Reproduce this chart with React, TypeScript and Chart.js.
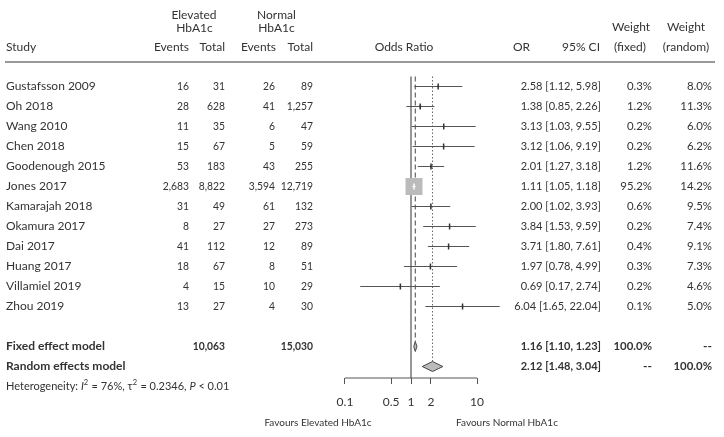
import React, { useEffect, useRef } from 'react';
import { Chart, registerables } from 'chart.js';

Chart.register(...registerables);

// ---------------- data ----------------
const studies = [
  'Gustafsson 2009', 'Oh 2018', 'Wang 2010', 'Chen 2018', 'Goodenough 2015', 'Jones 2017',
  'Kamarajah 2018', 'Okamura 2017', 'Dai 2017', 'Huang 2017', 'Villamiel 2019', 'Zhou 2019',
];
const eventsElevated = [16, 28, 11, 15, 53, 2683, 31, 8, 41, 18, 4, 13];
const totalElevated = [31, 628, 35, 67, 183, 8822, 49, 27, 112, 67, 15, 27];
const eventsNormal = [26, 41, 6, 5, 43, 3594, 61, 27, 12, 8, 10, 4];
const totalNormal = [89, 1257, 47, 59, 255, 12719, 132, 273, 89, 51, 29, 30];
const oddsRatio = [2.58, 1.38, 3.13, 3.12, 2.01, 1.11, 2.0, 3.84, 3.71, 1.97, 0.69, 6.04];
const ciLower = [1.12, 0.85, 1.03, 1.06, 1.27, 1.05, 1.02, 1.53, 1.8, 0.78, 0.17, 1.65];
const ciUpper = [5.98, 2.26, 9.55, 9.19, 3.18, 1.18, 3.93, 9.59, 7.61, 4.99, 2.74, 22.04];
const weightFixed = [0.3, 1.2, 0.2, 0.2, 1.2, 95.2, 0.6, 0.2, 0.4, 0.3, 0.2, 0.1];
const weightRandom = [8.0, 11.3, 6.0, 6.2, 11.6, 14.2, 9.5, 7.4, 9.1, 7.3, 4.6, 5.0];

const fixedModel = [1.16, 1.1, 1.23]; // OR, lower, upper
const randomModel = [2.12, 1.48, 3.04];
const fixedTotals = [10063, 15030];
const tickValues = [0.1, 0.5, 1, 2, 10];
const heterogeneity = ['76%', '0.2346', '0.01']; // I², tau², p

// row positions (in row units)
const FIXED_ROW = 13;
const RANDOM_ROW = 14;
const HET_ROW = 15;
const Y_MIN = -1.025;
const Y_MAX = 14.575;

const FONT = 'Lato, "DejaVu Sans", sans-serif';
const TEXT = '#333';

const fmtN = (n: number) => n.toLocaleString('en-US');
const fmtCI = (o: number, l: number, h: number) => `${o.toFixed(2)} [${l.toFixed(2)}, ${h.toFixed(2)}]`;

const textPlugin = {
  id: 'forestText',
  afterDraw(chart: any) {
    const ctx: CanvasRenderingContext2D = chart.ctx;
    const ys = chart.scales.y;
    ctx.save();
    ctx.fillStyle = TEXT;
    ctx.textBaseline = 'middle';
    const txt = (
      s: string, px: number, py: number, align: CanvasTextAlign = 'left',
      bold = false, size = 12, squeeze = 1,
    ) => {
      ctx.font = `${bold ? 'bold ' : ''}${size}px ${FONT}`;
      ctx.textAlign = align;
      if (squeeze < 1) ctx.fillText(s, px, py, ctx.measureText(s).width * squeeze);
      else ctx.fillText(s, px, py);
    };
    const NUM = 0.86;
    const CI = 0.92;
    // header
    txt('Elevated', 194, 15.5, 'center');
    txt('HbA1c', 194.5, 28.5, 'center');
    txt('Normal', 276.5, 15.5, 'center');
    txt('HbA1c', 276.5, 28.5, 'center');
    txt('Study', 6, 47.5);
    txt('Events', 189, 47.5, 'right');
    txt('Total', 225, 47.5, 'right');
    txt('Events', 276, 47.5, 'right');
    txt('Total', 313, 47.5, 'right');
    txt('Odds Ratio', 404, 47.5, 'center');
    txt('OR', 513, 47.5);
    txt('95% CI', 600, 47.5, 'right');
    txt('Weight', 631, 27.5, 'center');
    txt('(fixed)', 630, 47.5, 'center');
    txt('Weight', 686, 27.5, 'center');
    txt('(random)', 686, 47.5, 'center');

    ctx.strokeStyle = '#777';
    ctx.lineWidth = 1.5;
    ctx.beginPath();
    ctx.moveTo(5, 62);
    ctx.lineTo(715, 62);
    ctx.stroke();

    // study rows
    studies.forEach((s, i) => {
      const py = ys.getPixelForValue(i);
      txt(s, 6, py);
      txt(fmtN(eventsElevated[i]), 189, py, 'right', false, 12, NUM);
      txt(fmtN(totalElevated[i]), 225, py, 'right', false, 12, NUM);
      txt(fmtN(eventsNormal[i]), 275, py, 'right', false, 12, NUM);
      txt(fmtN(totalNormal[i]), 313, py, 'right', false, 12, NUM);
      txt(fmtCI(oddsRatio[i], ciLower[i], ciUpper[i]), 601, py, 'right', false, 12, CI);
      txt(weightFixed[i].toFixed(1) + '%', 652, py, 'right', false, 12, 0.95);
      txt(weightRandom[i].toFixed(1) + '%', 712, py, 'right', false, 12, 0.95);
    });

    // fixed
    let py = ys.getPixelForValue(FIXED_ROW);
    txt('Fixed effect model', 6, py, 'left', true);
    txt(fmtN(fixedTotals[0]), 225, py, 'right', true, 12, NUM);
    txt(fmtN(fixedTotals[1]), 313, py, 'right', true, 12, NUM);
    txt(fmtCI(fixedModel[0], fixedModel[1], fixedModel[2]), 601, py, 'right', true, 12, CI);
    txt('100.0%', 652, py, 'right', true, 12, 0.95);
    txt('--', 712, py, 'right', true);
    // random
    py = ys.getPixelForValue(RANDOM_ROW);
    txt('Random effects model', 6, py, 'left', true);
    txt(fmtCI(randomModel[0], randomModel[1], randomModel[2]), 601, py, 'right', true, 12, CI);
    txt('--', 652, py, 'right', true);
    txt('100.0%', 712, py, 'right', true, 12, 0.95);

    // heterogeneity with runs
    py = ys.getPixelForValue(HET_ROW);
    const runs: [string, boolean, boolean][] = [
      ['Heterogeneity: ', false, false],
      ['I', true, false],
      ['2', false, true],
      [` = ${heterogeneity[0]}, \u03c4`, false, false],
      ['2', false, true],
      [` = ${heterogeneity[1]}, `, false, false],
      ['P', true, false],
      [` < ${heterogeneity[2]}`, false, false],
    ];
    let cx = 6;
    ctx.textAlign = 'left';
    runs.forEach(([s, it, sup]) => {
      const size = sup ? 7.5 : 11;
      ctx.font = `${it ? 'italic ' : ''}${size}px ${FONT}`;
      ctx.fillText(s, cx, sup ? py - 4 : py);
      cx += ctx.measureText(s).width + (sup ? 0.5 : 0);
    });

    // favours labels
    const axisY = ys.getPixelForValue(Y_MAX);
    txt('Favours Elevated HbA1c', 318, axisY + 45, 'center', false, 10);
    txt('Favours Normal HbA1c', 507, axisY + 45, 'center', false, 10);
    ctx.restore();
  },
};

function buildDatasets() {
  const ds: any[] = [];
  // reference solid line at 1
  ds.push({
    type: 'line', data: [{ x: 1, y: -0.5 }, { x: 1, y: Y_MAX }],
    borderColor: '#777', borderWidth: 1.5, pointRadius: 0, order: 20, clip: false,
  });
  // fixed estimate dashed line
  ds.push({
    type: 'line', data: [{ x: fixedModel[0], y: -0.5 }, { x: fixedModel[0], y: FIXED_ROW - 0.25 }],
    borderColor: '#444', borderWidth: 1, borderDash: [5, 3], pointRadius: 0, order: 19, clip: false,
  });
  // random estimate dotted line
  ds.push({
    type: 'line', data: [{ x: randomModel[0], y: -0.5 }, { x: randomModel[0], y: RANDOM_ROW - 0.25 }],
    borderColor: '#666', borderWidth: 1, borderDash: [1.5, 2], pointRadius: 0, order: 18, clip: false,
  });
  // axis baseline from first to last tick
  ds.push({
    type: 'line', data: [{ x: tickValues[0], y: Y_MAX }, { x: tickValues[tickValues.length - 1], y: Y_MAX }],
    borderColor: '#555', borderWidth: 1, pointRadius: 0, order: 17, clip: false,
  });
  // CI lines
  studies.forEach((_, i) => {
    const isBig = weightFixed[i] > 50;
    ds.push({
      type: 'line', data: [{ x: ciLower[i], y: i }, { x: ciUpper[i], y: i }],
      borderColor: isBig ? '#ffffff' : '#555', borderWidth: 1, pointRadius: 0,
      order: isBig ? 3 : 10, clip: false,
    });
  });
  // weight boxes
  const maxW = Math.max(...weightFixed);
  ds.push({
    type: 'scatter',
    data: studies.map((_, i) => ({ x: oddsRatio[i], y: i })),
    pointStyle: 'rect',
    pointRadius: weightFixed.map((w) => Math.max(1, (17 * Math.sqrt(w / maxW)) / Math.SQRT2)),
    backgroundColor: weightFixed.map((w) => (w > 50 ? '#bbbbbb' : '#444')),
    borderWidth: 0,
    order: 5, clip: false,
  });
  // point estimate ticks
  ds.push({
    type: 'scatter',
    data: studies.map((_, i) => ({ x: oddsRatio[i], y: i })),
    pointStyle: 'line',
    rotation: 90,
    pointRadius: 3,
    borderColor: weightFixed.map((w) => (w > 50 ? '#ffffff' : '#333')),
    borderWidth: 1.5,
    order: 2, clip: false,
  });
  // diamonds
  const diamond = (m: number[], row: number, order: number) => ({
    type: 'line',
    data: [
      { x: m[1], y: row }, { x: m[0], y: row - 0.25 }, { x: m[2], y: row },
      { x: m[0], y: row + 0.25 }, { x: m[1], y: row },
    ],
    borderColor: '#444', borderWidth: 1, backgroundColor: '#bbbbbb',
    fill: 'shape', pointRadius: 0, tension: 0, order, clip: false,
  });
  ds.push(diamond(fixedModel, FIXED_ROW, 1));
  ds.push(diamond(randomModel, RANDOM_ROW, 1));
  return ds;
}

export default function App() {
  const ref = useRef<HTMLCanvasElement | null>(null);
  useEffect(() => {
    if (!ref.current) return;
    const chart = new Chart(ref.current, {
      type: 'scatter',
      data: { datasets: buildDatasets() },
      options: {
        responsive: false,
        animation: false,
        devicePixelRatio: 1,
        layout: { padding: { left: 325.13, right: 215.5, top: 66, bottom: 19 } },
        plugins: { legend: { display: false }, tooltip: { enabled: false } },
        scales: {
          x: {
            type: 'logarithmic',
            min: 0.05,
            max: 30,
            afterBuildTicks: (scale: any) => {
              scale.ticks = tickValues.map((v) => ({ value: v }));
            },
            afterFit: (scale: any) => {
              scale.height = 40;
            },
            ticks: {
              autoSkip: false,
              maxRotation: 0,
              padding: 11,
              color: TEXT,
              font: { family: FONT, size: 12 },
              callback: (v: any) => String(v),
            },
            grid: { drawOnChartArea: false, drawTicks: true, tickLength: 6, color: '#555', lineWidth: 1 },
            border: { display: false },
          },
          y: { type: 'linear', min: Y_MIN, max: Y_MAX, reverse: true, display: false },
        },
      } as any,
      plugins: [textPlugin],
    });
    return () => chart.destroy();
  }, []);
  return (
    <div style={{ position: 'fixed', left: 0, top: 0, width: 724, height: 437, background: '#fff' }}>
      <canvas ref={ref} width={724} height={437} style={{ display: 'block' }} />
    </div>
  );
}
